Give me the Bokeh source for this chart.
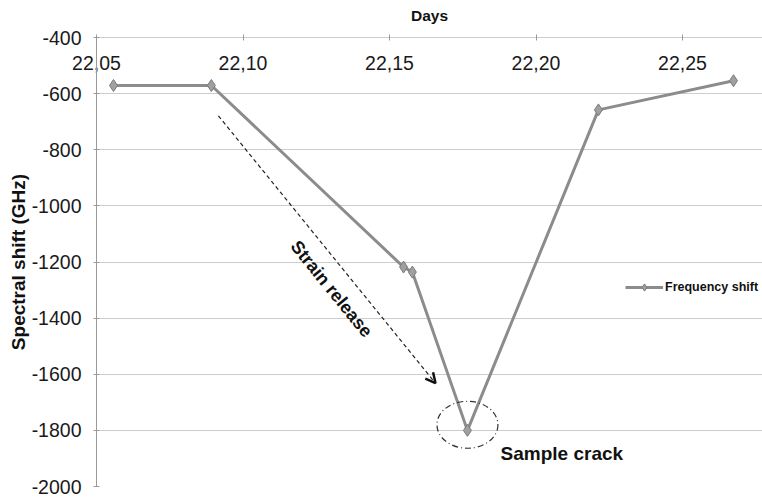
from bokeh.plotting import figure
from bokeh.models import (Range1d, FixedTicker, CustomJSTickFormatter, Arrow, OpenHead,
                          Legend, LegendItem, ColumnDataSource)
from bokeh.core.properties import value
from bokeh.embed import file_html
from bokeh.resources import INLINE

# ---- data ----
days = [22.0558, 22.0892, 22.1548, 22.1578, 22.1766, 22.2213, 22.2674]
shift = [-571, -571, -1218, -1236, -1800, -658, -554]
series_name = "Frequency shift"

x_ticks = [22.05, 22.10, 22.15, 22.20, 22.25]
y_ticks = [-2000, -1800, -1600, -1400, -1200, -1000, -800, -600, -400]

arrow_start = (22.0916, -679)
arrow_end = (22.1657, -1632)
strain_label = ("Strain release", 22.1302, -1296)
crack_label = ("Sample crack", 22.1879, -1882)
crack_ellipse = (22.1766, -1780)

FONT = "Liberation Sans"

p = figure(width=762, height=500, output_backend="svg", toolbar_location=None,
           x_axis_location="above",
           x_range=Range1d(22.05, 22.2773), y_range=Range1d(-2000, -400),
           min_border_left=96, min_border_right=0, min_border_top=37, min_border_bottom=14)
p.outline_line_color = None
p.background_fill_color = "white"
p.border_fill_color = "white"

# grids
p.xgrid.grid_line_color = None
p.ygrid.ticker = FixedTicker(ticks=y_ticks)
p.ygrid.grid_line_color = "#9a9a9a"
p.ygrid.grid_line_dash = "1 1"
p.ygrid.grid_line_width = 1

# x axis (top)
xa = p.xaxis[0]
xa.ticker = FixedTicker(ticks=x_ticks)
xa.formatter = CustomJSTickFormatter(code="return tick.toFixed(2).replace('.', ',');")
xa.axis_label = "Days"
xa.axis_label_text_font = FONT
xa.axis_label_text_font_style = "bold"
xa.axis_label_text_font_size = "15.5px"
xa.axis_label_text_color = "#111111"
xa.axis_label_standoff = 29
xa.major_label_text_font = FONT
xa.major_label_text_font_size = "19.5px"
xa.major_label_text_color = "#1a1a1a"
xa.major_label_standoff = -35
xa.axis_line_color = "#9a9a9a"
xa.axis_line_dash = "1 1"
xa.major_tick_line_color = "#9a9a9a"
xa.major_tick_in = 3
xa.major_tick_out = 3
xa.minor_tick_line_color = None

# y axis
ya = p.yaxis[0]
ya.ticker = FixedTicker(ticks=y_ticks)
ya.formatter = CustomJSTickFormatter(code="return tick.toFixed(0);")
ya.axis_label = "Spectral shift (GHz)"
ya.axis_label_text_font = FONT
ya.axis_label_text_font_style = "bold"
ya.axis_label_text_font_size = "19px"
ya.axis_label_text_color = "#111111"
ya.axis_label_standoff = 0
ya.major_label_text_font = FONT
ya.major_label_text_font_size = "19.5px"
ya.major_label_text_color = "#1a1a1a"
ya.major_label_standoff = 12
ya.axis_line_color = "#9a9a9a"
ya.major_tick_line_color = "#9a9a9a"
ya.major_tick_in = 3
ya.major_tick_out = 3
ya.minor_tick_line_color = None

src = ColumnDataSource(dict(x=days, y=shift))
ln = p.line("x", "y", source=src, line_color="#8c8c8c", line_width=3)
mk = p.scatter("x", "y", source=src, marker="diamond", size=12,
               fill_color="#a0a0a0", line_color="#7a7a7a", line_width=1)

# annotations
p.add_layout(Arrow(x_start=arrow_start[0], y_start=arrow_start[1],
                   x_end=arrow_end[0], y_end=arrow_end[1],
                   line_color="#222222", line_width=1.2, line_dash="4 3",
                   end=OpenHead(size=10, line_color="#111111", line_width=2.5)))
p.text(x=[strain_label[1]], y=[strain_label[2]], text=[strain_label[0]],
       angle=-0.89, text_align="center", text_baseline="middle",
       text_font=value(FONT), text_font_style="bold", text_font_size="18px",
       text_color="#111111")
p.text(x=[crack_label[1]], y=[crack_label[2]], text=[crack_label[0]],
       text_align="left", text_baseline="middle",
       text_font=value(FONT), text_font_style="bold", text_font_size="19px",
       text_color="#111111")
p.ellipse(x=[crack_ellipse[0]], y=[crack_ellipse[1]], width=61, height=47,
          width_units="screen", height_units="screen",
          fill_color=None, line_color="#333333", line_width=1.2, line_dash="6 3 1 3")

legend = Legend(items=[LegendItem(label=series_name, renderers=[ln, mk])],
                location=(529, 190), padding=0, margin=0, spacing=0,
                glyph_width=38, glyph_height=18, label_standoff=2,
                border_line_color=None, background_fill_alpha=0,
                label_text_font=FONT, label_text_font_style="bold",
                label_text_font_size="12.5px", label_text_color="#111111")
p.add_layout(legend)

open("out.html", "w").write(file_html(p, INLINE))
